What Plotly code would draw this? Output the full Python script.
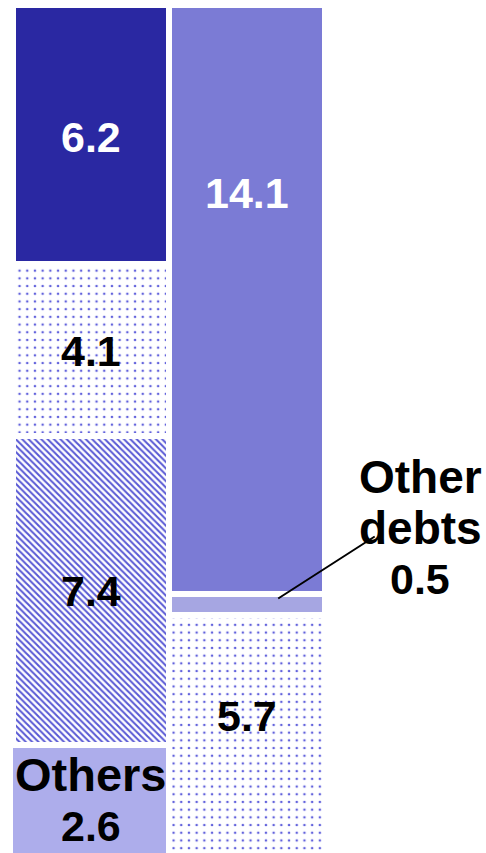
import plotly.graph_objects as go

# Two stacked columns of equal total (20.3)
left_names = ["Others", "Hatched", "Dotted", "Dark"]
left_values = [2.6, 7.4, 4.1, 6.2]
right_names = ["Dotted", "Other debts", "Medium"]
right_values = [5.7, 0.5, 14.1]

DARK = "#2A28A2"
MEDIUM = "#7B7BD5"
LIGHT = "#A6A6E2"
OTHERS = "#ADADEB"
DOT = "#6262DC"
HATCH = "#5858D4"
FONT = "Liberation Sans, Arial, sans-serif"

fig = go.Figure()

white_edge = dict(color="white", width=6)


def seg(x, v, color, pattern=None, width=1.0, offset=-0.5, edge=white_edge):
    marker = dict(color=color, line=edge)
    if pattern:
        marker["pattern"] = pattern
    fig.add_trace(go.Bar(x=[x], y=[v], marker=marker, hoverinfo="skip",
                         width=[width], offset=[offset]))


dots = dict(shape=".", fgcolor=DOT, bgcolor="white", size=7.7, solidity=0.09, fillmode="replace")
hatch = dict(shape="\\", fgcolor=HATCH, bgcolor="white", size=4.5, solidity=0.45, fillmode="replace")

# left column, bottom to top; the base block carries an edge in its own colour
px = 1 / 156
seg(0, left_values[0], OTHERS, width=1 - 3 * px, offset=-0.5 + 3 * px,
    edge=dict(color=OTHERS, width=6))
seg(0, left_values[1], "white", hatch)
seg(0, left_values[2], "white", dots)
seg(0, left_values[3], DARK)
# right column, bottom to top
seg(1, right_values[0], "white", dots)
seg(1, right_values[1], LIGHT)
seg(1, right_values[2], MEDIUM)


def centers(vals):
    out, acc = [], 0.0
    for v in vals:
        out.append(acc + v / 2)
        acc += v
    return out


lc = centers(left_values)
rc = centers(right_values)


def label(x, y, text, color="black", yshift=0, size=43):
    fig.add_annotation(x=x, y=y, text=text, showarrow=False, yshift=yshift,
                       font=dict(family=FONT, size=size, color=color, weight="bold"))


label(0, lc[0], left_names[0], yshift=25, size=47)
label(0, lc[0], f"{left_values[0]}", yshift=-27)
label(0, lc[1], f"{left_values[1]}", yshift=-1)
label(0, lc[2], f"{left_values[2]}", yshift=-1.5)
label(0, lc[3], f"{left_values[3]}", color="white", yshift=-2)
label(1, rc[0], f"{right_values[0]}", yshift=18)
label(1, rc[2], f"{right_values[2]}", color="white", yshift=107)

# "Other debts" callout, one line per annotation for tighter spacing
y_top = sum(right_values[:2])
for i, (t, s) in enumerate([("Other", 46), ("debts", 46), (f"{right_values[1]}", 43)]):
    fig.add_annotation(x=2.11, y=y_top, text=t, showarrow=False, yshift=117 - 51 * i,
                       font=dict(family=FONT, size=s, color="black", weight="bold"))

# leader line from the thin segment to the label
fig.add_annotation(x=1.2, y=right_values[0] + right_values[1] * 0.8, text="",
                   showarrow=True, arrowhead=0, arrowwidth=2, arrowcolor="black",
                   ax=98, ay=-63, standoff=0, startstandoff=0)

fig.update_layout(
    width=486, height=853,
    barmode="stack", bargap=0,
    showlegend=False,
    plot_bgcolor="white", paper_bgcolor="white",
    margin=dict(l=8, r=0, t=5, b=0),
    xaxis=dict(range=[-0.532, 2.532], visible=False, fixedrange=True),
    yaxis=dict(range=[0.012, 20.3], visible=False, fixedrange=True),
)

fig.write_html("out.html")
